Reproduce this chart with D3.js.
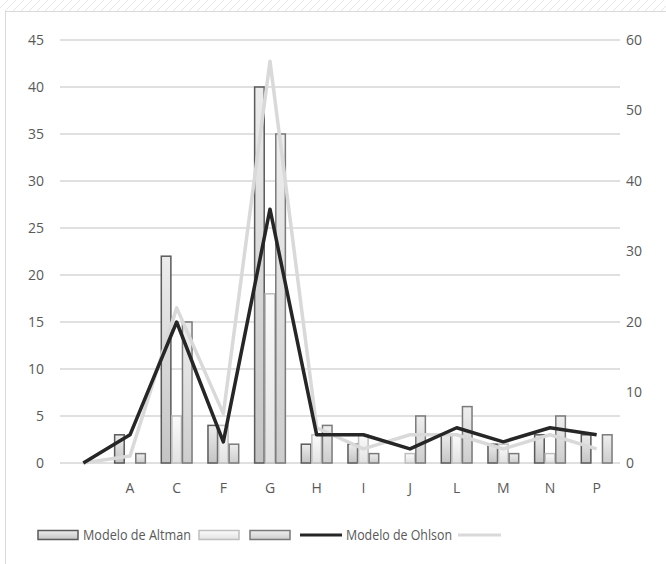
<!DOCTYPE html>
<html lang="es">
<head>
<meta charset="UTF-8">
<title>Modelo de Altman / Modelo de Ohlson</title>
<script src="https://d3js.org/d3.v7.min.js"></script>
<style>
  body { margin: 0; background: #fff; }
  svg text { font-family: "Open Sans", "Noto Sans", sans-serif; fill: #595959; }
</style>
</head>
<body>
<svg id="chart" width="666" height="564"></svg>
<script>
// categories and values
const categories = ["", "A", "C", "F", "G", "H", "I", "J", "L", "M", "N", "P"];
const altman1 = [0, 3, 22, 4, 40, 2, 2, 0, 3, 2, 3, 3];   // dark outline bars
const altman2 = [0, 0, 5, 4, 18, 3, 3, 1, 3, 2, 1, 0];    // light outline bars
const altman3 = [0, 1, 15, 2, 35, 4, 1, 5, 6, 1, 5, 3];   // medium outline bars
const ohlson1 = [0, 4, 20, 3, 36, 4, 4, 2, 5, 3, 5, 4];   // black line (right axis)
const ohlson2 = [0, 1, 22, 7, 57, 5, 2, 4, 4, 2, 4, 2];   // light line (right axis)
const leftTicks = [0, 5, 10, 15, 20, 25, 30, 35, 40, 45];
const rightTicks = [0, 10, 20, 30, 40, 50, 60];

const svg = d3.select("#chart");
const plotLeft = 60, plotRight = 620, plotTop = 40, plotBottom = 463;

// page border + faint hatch at the top
const defs = svg.append("defs");
const hatch = defs.append("pattern").attr("id", "hatch")
    .attr("width", 8).attr("height", 8).attr("patternUnits", "userSpaceOnUse");
hatch.append("path").attr("d", "M0,8 L8,0").attr("stroke", "#e6e6e6").attr("stroke-width", 1);
svg.append("rect").attr("x", 0).attr("y", 0).attr("width", 666).attr("height", 11).attr("fill", "url(#hatch)");
svg.append("rect").attr("x", 5.5).attr("y", 11.5).attr("width", 700).attr("height", 600)
    .attr("fill", "#fff").attr("stroke", "#d9d9d9");

// bar gradients
const barStyles = [
    { id: "g1", top: "#ececec", bottom: "#c4c4c4", stroke: "#5a5a5a" },
    { id: "g2", top: "#fbfbfb", bottom: "#e2e2e2", stroke: "#bfbfbf" },
    { id: "g3", top: "#eeeeee", bottom: "#cdcdcd", stroke: "#7a7a7a" }
];
barStyles.forEach(s => {
    const g = defs.append("linearGradient").attr("id", s.id)
        .attr("x1", 0).attr("y1", 0).attr("x2", 0).attr("y2", 1);
    g.append("stop").attr("offset", "0%").attr("stop-color", s.top);
    g.append("stop").attr("offset", "100%").attr("stop-color", s.bottom);
});

const x = d3.scaleBand().domain(categories).range([plotLeft, plotRight]).padding(0);
const yL = d3.scaleLinear().domain([0, 45]).range([plotBottom, plotTop]);
const yR = d3.scaleLinear().domain([0, 60]).range([plotBottom, plotTop]);

// gridlines
svg.append("g").selectAll("line").data(leftTicks).join("line")
    .attr("x1", plotLeft).attr("x2", plotRight)
    .attr("y1", d => yL(d)).attr("y2", d => yL(d))
    .attr("stroke", "#d6d6d6").attr("stroke-width", 1.5);

// axes
const axL = svg.append("g").attr("transform", `translate(${plotLeft - 16},0)`)
    .call(d3.axisLeft(yL).tickValues(leftTicks).tickSize(0).tickPadding(0));
const axR = svg.append("g").attr("transform", `translate(${plotRight + 6},0)`)
    .call(d3.axisRight(yR).tickValues(rightTicks).tickSize(0).tickPadding(0));
const axX = svg.append("g").attr("transform", `translate(0,${plotBottom})`)
    .call(d3.axisBottom(x).tickSize(0).tickPadding(20));
[axL, axR, axX].forEach(a => {
    a.select(".domain").remove();
    a.selectAll("text").style("font-size", "14px").attr("fill", "#595959");
});

// bars
const series = [altman1, altman2, altman3];
const groupW = x.bandwidth() * 0.68;
const xs = d3.scaleBand().domain([0, 1, 2]).range([0, groupW]).padding(0);
series.forEach((vals, si) => {
    svg.append("g").selectAll("rect").data(vals).join("rect")
        .attr("x", (d, i) => x(categories[i]) + (x.bandwidth() - groupW) / 2 + xs(si) + 0.5)
        .attr("y", d => yL(d))
        .attr("width", xs.bandwidth() - 1)
        .attr("height", d => plotBottom - yL(d))
        .attr("fill", `url(#${barStyles[si].id})`)
        .attr("stroke", d => d > 0 ? barStyles[si].stroke : "none")
        .attr("stroke-width", 1.5);
});

// lines
const line = d3.line()
    .x((d, i) => x(categories[i]) + x.bandwidth() / 2)
    .y(d => yR(d));
svg.append("path").datum(ohlson2).attr("d", line)
    .attr("fill", "none").attr("stroke", "#d9d9d9").attr("stroke-width", 3.5)
    .attr("stroke-linejoin", "round");
svg.append("path").datum(ohlson1).attr("d", line)
    .attr("fill", "none").attr("stroke", "#262626").attr("stroke-width", 3.5)
    .attr("stroke-linejoin", "round");

// legend
const ly = 535;
const legend = svg.append("g");
const swatch = (x0, s) => legend.append("rect").attr("x", x0).attr("y", ly - 4.5)
    .attr("width", 40).attr("height", 9).attr("fill", `url(#${s.id})`)
    .attr("stroke", s.stroke).attr("stroke-width", 1.5);
swatch(38, barStyles[0]);
legend.append("text").attr("x", 83).attr("y", ly + 5).style("font-size", "14px")
    .attr("textLength", 108).attr("lengthAdjust", "spacingAndGlyphs").text("Modelo de Altman");
swatch(199, barStyles[1]);
swatch(250, barStyles[2]);
legend.append("line").attr("x1", 300).attr("x2", 342).attr("y1", ly).attr("y2", ly)
    .attr("stroke", "#262626").attr("stroke-width", 3);
legend.append("text").attr("x", 346).attr("y", ly + 5).style("font-size", "14px")
    .attr("textLength", 106).attr("lengthAdjust", "spacingAndGlyphs").text("Modelo de Ohlson");
legend.append("line").attr("x1", 458).attr("x2", 501).attr("y1", ly).attr("y2", ly)
    .attr("stroke", "#d9d9d9").attr("stroke-width", 3);
</script>
</body>
</html>
